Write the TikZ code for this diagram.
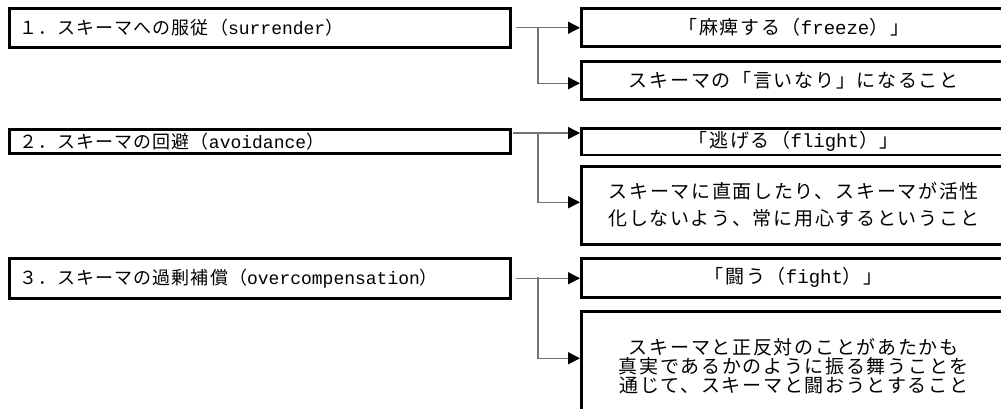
\documentclass[tikz,border=0pt]{standalone}
\usepackage{fontspec}
\usetikzlibrary{arrows.meta}
\newfontfamily\jpfont{Noto Sans CJK JP}
\newfontfamily\latfont{Liberation Mono}
\newcommand\lw[1]{{\latfont #1}}
\tikzset{
  lbox/.style={draw=black, line width=2.5pt, anchor=north west, minimum width=501pt,
    text width=481pt, inner xsep=10pt, align=left, font=\fontsize{18}{20}\jpfont\addfontfeature{LetterSpace=6}},
  rbox/.style={draw=black, line width=2.5pt, anchor=north west, minimum width=425pt,
    align=center, inner xsep=6pt, font=\fontsize{19}{19}\jpfont\addfontfeature{LetterSpace=9}},
  conn/.style={draw=black!55, line width=1.4pt},
  arr/.style={conn, -{Triangle[length=12pt,width=12pt,color=black]}}
}
\begin{document}
\begin{tikzpicture}[x=1pt,y=-1pt]
\useasboundingbox (0,0) rectangle (1001,408);
\clip (0,0) rectangle (1001,408);
\fill[white] (0,0) rectangle (1001,408);
% left boxes
\node[lbox, minimum height=39pt] (L1) at (8,7) {１．スキーマへの服従（\lw{surrender}）};
\node[lbox, minimum height=24pt] (L2) at (8,128) {２．スキーマの回避（\lw{avoidance}）};
\node[lbox, minimum height=40pt] (L3) at (8,257) {３．スキーマの過剰補償（\lw{overcompensation}）};
% right boxes
\node[rbox, minimum height=38pt] (R1) at (580,7) {「麻痺する（\lw{freeze}）」};
\node[rbox, minimum height=38pt] (R2) at (580,60) {スキーマの「言いなり」になること};
\node[rbox, minimum height=25pt] (R3) at (580,127) {「逃げる（\lw{flight}）」};
\node[rbox, minimum height=78pt, font=\fontsize{19}{27}\jpfont\addfontfeature{LetterSpace=9}] (R4) at (580,165) {スキーマに直面したり、スキーマが活性\\化しないよう、常に用心するということ};
\node[rbox, minimum height=39pt] (R5) at (580,257) {「闘う（\lw{fight}）」};
\node[rbox, minimum height=110pt] (R6) at (580,310) {スキーマと正反対のことがあたかも\\真実であるかのように振る舞うことを\\通じて、スキーマと闘おうとすること};
% connectors
\coordinate (s1) at ([xshift=4pt]L1.east);
\coordinate (b1) at (538,27);
\draw[arr] (s1) -- (s1 -| R1.west);
\draw[arr] (b1) |- ([yshift=-3pt]R2.west);
\coordinate (s2) at (513,133);
\coordinate (b2) at (538,133);
\draw[arr] (s2) -- (s2 -| R3.west);
\draw[arr] (b2) |- ([yshift=3pt]R4.west);
\coordinate (s3) at ([xshift=4pt]L3.east);
\coordinate (b3) at (538,277);
\draw[arr] (s3) -- (s3 -| R5.west);
\draw[arr] (b3) |- ([yshift=8pt]R6.west);
\end{tikzpicture}
\end{document}
